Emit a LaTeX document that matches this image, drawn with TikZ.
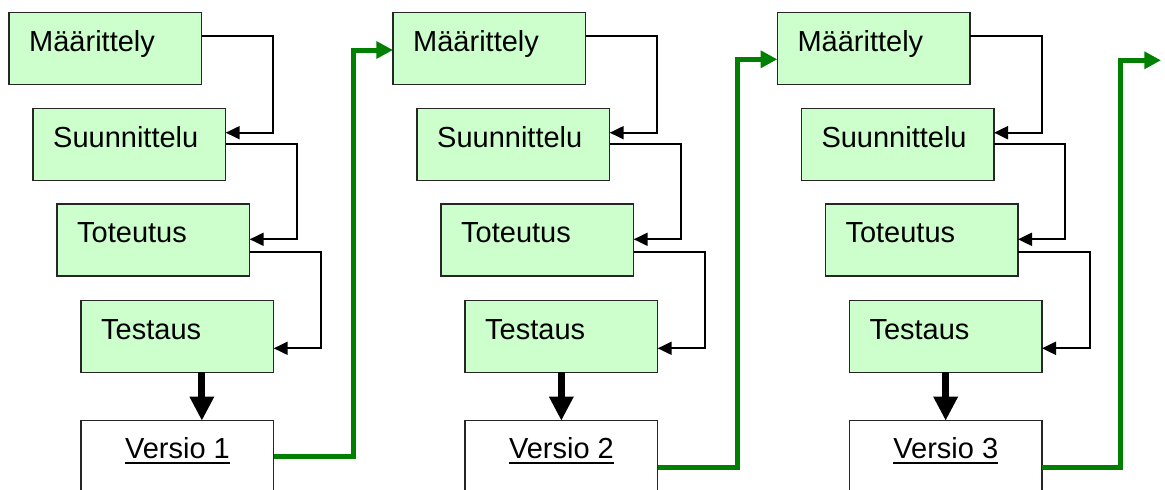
\documentclass[tikz,border=0pt]{standalone}
\usepackage{fontspec}
\setmainfont{Liberation Sans}
\usetikzlibrary{arrows.meta}
\definecolor{phasefill}{HTML}{CCFFCC}
\definecolor{relgreen}{HTML}{008000}

\begin{document}
\begin{tikzpicture}[x=1pt,y=-1pt,
  phase/.style={rectangle, draw=black!85, line width=1.5pt, fill=phasefill,
    minimum width=192.7pt, minimum height=72pt, inner sep=0pt, outer sep=0pt,
    anchor=north west},
  release/.style={phase, fill=white, minimum height=110pt},
  phasetext/.style={anchor=base west, inner sep=0pt, font=\fontsize{29}{34}\selectfont},
  reltext/.style={anchor=base, inner sep=0pt, font=\fontsize{29}{34}\selectfont},
  conn/.style={line width=2pt, -{Triangle[length=14pt,width=13pt]}},
  bigarrow/.style={line width=7pt, -{Triangle[length=24pt,width=23pt]}},
  nextarrow/.style={draw=relgreen, line width=5pt, -{Triangle[length=16.7pt,width=16.7pt]}}
]
\useasboundingbox (0,0) rectangle (1165,490);
\clip (0,0) rectangle (1165,490);

% one iteration of the cycle per release
\foreach \g/\dx/\bx in {1/0/24.5, 2/384/0, 3/768.3/0} {
  \node[phase] (m\g) at (9+\dx,12.5) {};
  \node[phase] (s\g) at (33+\dx,108.5) {};
  \node[phase] (t\g) at (57+\dx,204) {};
  \node[phase] (e\g) at (81+\dx,300.3) {};
  \node[release] (v\g) at (81+\dx,420.7) {};

  \node[phasetext] (mt\g) at ([shift={(20,38.7)}]m\g.north west) {Määrittely};
  \node[phasetext] (st\g) at ([shift={(20,38.7)}]s\g.north west) {Suunnittelu};
  \node[phasetext] (tt\g) at ([shift={(20,38.7)}]t\g.north west) {Toteutus};
  \node[phasetext] (et\g) at ([shift={(20,38.7)}]e\g.north west) {Testaus};
  \node[reltext] (vt\g) at ([shift={(96.5,37.6)}]v\g.north west) {Versio \g};
  \draw[line width=2.2pt] ([yshift=-4.5pt]vt\g.base west) -- ([yshift=-4.5pt]vt\g.base east);

  % phase to phase
  \draw[conn] ([yshift=-23.8pt]m\g.north east) -| ([xshift=47.6pt,yshift=-24.2pt]s\g.north east)
    -- ([yshift=-24.2pt]s\g.north east);
  \draw[conn] ([yshift=-35.8pt]s\g.north east) -| ([xshift=47pt,yshift=-35.3pt]t\g.north east)
    -- ([yshift=-35.3pt]t\g.north east);
  \draw[conn] ([yshift=-48.3pt]t\g.north east) -| ([xshift=47.5pt,yshift=-48pt]e\g.north east)
    -- ([yshift=-48pt]e\g.north east);

  % testing produces the release
  \draw[bigarrow] ([xshift=\bx pt]e\g.south) -- ([xshift=\bx pt]v\g.north);
}

% each release starts the next round
\draw[nextarrow] ([yshift=-36pt]v1.north east) -| ([xshift=-40pt,yshift=-37.5pt]m2.north west)
  -- ([yshift=-37.5pt]m2.north west);
\draw[nextarrow] ([yshift=-47pt]v2.north east) -| ([xshift=-40pt,yshift=-46.8pt]m3.north west)
  -- ([yshift=-46.8pt]m3.north west);
\coordinate (out) at (1161,60.3);
\draw[nextarrow] ([yshift=-47pt]v3.north east) -| ([xshift=-40.5pt]out) -- (out);
\end{tikzpicture}
\end{document}
